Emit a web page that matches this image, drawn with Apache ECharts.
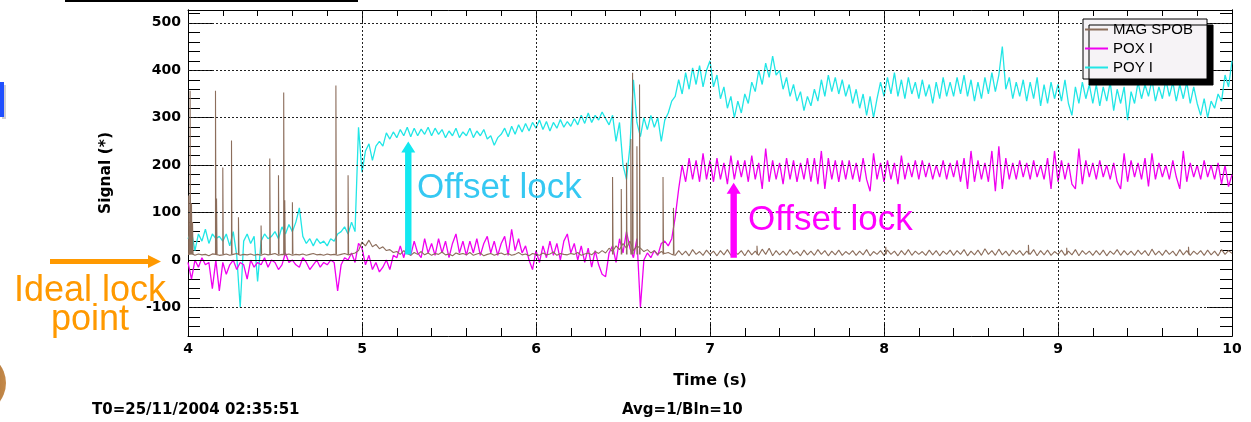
<!DOCTYPE html>
<html><head><meta charset="utf-8">
<script src="https://cdn.jsdelivr.net/npm/echarts@6/dist/echarts.min.js"></script>
<style>html,body{margin:0;padding:0;background:#fff}#c{width:1251px;height:422px}</style>
</head><body><div id="c"></div>
<script>
// ---- data ----
const seriesNames = ['MAG SPOB', 'POX I', 'POY I'];
const tStart = 4, tStep = 0.02;   // sampling grid of the uniform series (s)

const poyValues = [
  45, 60, 20, 55, 40, 65, 35, 55, 45, 50,
  40, 55, 30, 60, 10, -100, 40, 55, 35, 50,
  -45, 40, 55, 45, 50, 60, 45, 70, 55, 75,
  60, 80, 110, 50, 35, 45, 30, 45, 35, 40,
  30, 45, 40, 55, 60, 70, 55, 80, 60, 280,
  185, 230, 245, 210, 240, 250, 240, 268, 255, 270,
  258, 275, 262, 280, 260, 278, 262, 276, 265, 280,
  262, 278, 265, 275, 258, 272, 262, 278, 258, 270,
  262, 278, 258, 272, 262, 275, 255, 262, 242, 258,
  265, 278, 260, 282, 265, 285, 270, 288, 272, 290,
  278, 295, 275, 292, 272, 290, 278, 296, 280, 292,
  282, 298, 285, 305, 288, 310, 290, 305, 295, 312,
  298, 285, 305, 250, 290, 200, 170, 240, 380, 290,
  260, 300, 275, 305, 280, 300, 250, 295, 310, 335,
  345, 380, 350, 395, 360, 405, 370, 410, 365, 400,
  420, 365, 390, 340, 365, 320, 345, 300, 335, 310,
  350, 330, 375, 355, 400, 370, 415, 385, 430, 390,
  400, 360, 385, 345, 370, 335, 355, 315, 345, 325,
  360, 335, 380, 345, 390, 355, 385, 350, 380, 345,
  370, 330, 360, 320, 350, 305, 345, 300, 340, 375,
  345, 385, 350, 395, 345, 380, 340, 385, 350, 375,
  340, 380, 345, 370, 330, 375, 340, 385, 345, 375,
  345, 385, 350, 390, 345, 380, 335, 375, 340, 385,
  350, 395, 355, 390, 450, 360, 385, 340, 375, 345,
  380, 335, 375, 340, 385, 325, 370, 330, 375, 340,
  370, 335, 380, 330, 305, 365, 330, 375, 340, 370,
  330, 370, 325, 365, 335, 375, 315, 360, 330, 365,
  295, 355, 330, 375, 340, 370, 345, 380, 335, 365,
  340, 380, 345, 375, 335, 370, 340, 375, 330, 365,
  330, 305, 340, 300, 335, 320, 350, 335, 390, 365,
  420
];

const poxValues = [
  -5, -40, 0, -15, 5, -10, -5, -60, 0, -65,
  -5, -30, -10, 0, -20, -5, -10, -40, 0, -15,
  -5, -10, 5, -15, 0, -5, -20, -10, 15, -5,
  0, -10, -15, 5, -5, -20, -10, 0, -15, -5,
  -10, 0, -5, -65, -10, 5, 0, 15, -5, 35,
  25, -10, 10, -20, -5, -25, -15, 0, -20, 10,
  5, 30, 5, 35, 10, 40, 15, 5, 45, 15,
  35, 10, 45, 15, 40, 5, 35, 55, 15, 40,
  10, 40, 15, 45, 10, 35, 50, 15, 40, 10,
  35, 50, 10, 65, 20, 45, 15, 30, 0, -20,
  20, -5, 30, 5, 40, 10, 35, 0, 40, 55,
  15, 35, 0, 30, -5, 25, -15, 20, -10, -30,
  -35, 15, 30, -5, 45, 15, 60, 25, 5, 45,
  -100, 0, 15, 5, 20, 10, 35, 40, 30, 45,
  90, 150, 200, 165, 215, 170, 210, 165, 225, 170,
  210, 165, 215, 170, 205, 160, 220, 170, 210, 175,
  210, 165, 220, 170, 205, 150, 235, 165, 210, 170,
  205, 160, 215, 170, 210, 165, 205, 170, 215, 165,
  215, 160, 230, 150, 215, 170, 210, 165, 210, 170,
  210, 170, 205, 165, 215, 170, 145, 225, 170, 205,
  165, 210, 170, 205, 160, 220, 170, 205, 175, 210,
  170, 210, 175, 205, 170, 200, 175, 210, 170, 205,
  175, 210, 165, 215, 150, 230, 165, 210, 170, 205,
  165, 230, 145, 240, 150, 215, 170, 205, 170, 210,
  175, 205, 170, 210, 175, 200, 170, 215, 150, 230,
  165, 210, 170, 205, 160, 150, 235, 160, 210, 175,
  205, 170, 210, 175, 200, 170, 205, 165, 150, 225,
  165, 210, 175, 205, 170, 215, 155, 225, 170, 205,
  175, 200, 170, 210, 175, 150, 230, 165, 205, 175,
  200, 170, 210, 175, 200, 170, 205, 160, 200, 155,
  180
];

const magValues = [
  12, 14, 10, 13, 11, 12, 9, 13, 12, 10,
  11, 13, 10, 12, 14, 10, 12, 11, 13, 10,
  12, 10, 13, 11, 12, 14, 10, 12, 11, 13,
  10, 12, 11, 13, 10, 12, 14, 11, 12, 10,
  13, 11, 12, 10, 12, 14, 11, 13, 15, 20,
  38, 30, 42, 28, 33, 24, 28, 20, 22, 16,
  18, 12, 20, 14, 10, 16, 12, 18, 11, 15,
  10, 14, 12, 17, 11, 13, 9, 15, 12, 14,
  11, 16, 10, 13, 15, 9, 12, 14, 10, 13,
  15, 11, 14, 10, 12, 16, 11, 13, 9, 14,
  12, 10, 15, 11, 13, 17, 10, 14, 12, 11,
  14, 12, 16, 10, 13, 15, 11, 18, 14, 20,
  15, 25, 18, 30, 22, 35, 25, 40, 20, 30,
  25, 18, 22, 15, 20, 12, 18, 14, 16, 12,
  10, 20, 11, 19, 9, 22, 12, 18, 10, 21,
  12, 19, 9, 20, 11, 22, 10, 18, 12, 20,
  9, 21, 11, 19, 10, 23, 12, 25, 9, 20,
  11, 19, 10, 22, 12, 18, 9, 21, 11, 19,
  10, 22, 12, 20, 9, 19, 11, 21, 10, 18,
  12, 20, 10, 19, 11, 22, 9, 18, 12, 20,
  10, 21, 12, 19, 9, 20, 11, 22, 10, 19,
  12, 18, 10, 21, 11, 20, 9, 19, 12, 21,
  10, 20, 12, 22, 9, 19, 11, 21, 10, 24,
  12, 20, 10, 23, 11, 19, 9, 21, 12, 20,
  10, 19, 12, 22, 9, 20, 11, 21, 10, 18,
  12, 21, 10, 19, 11, 22, 9, 20, 12, 19,
  10, 20, 11, 21, 9, 19, 12, 22, 10, 20,
  11, 19, 10, 21, 12, 20, 9, 23, 11, 19,
  10, 21, 12, 19, 9, 22, 11, 20, 10, 19,
  12, 20, 10, 21, 11, 19, 9, 22, 12, 20,
  14
];

// narrow MAG SPOB spikes: time (s) and peak value
const magSpikeTimes  = [4.004, 4.012, 4.02, 4.026, 4.158, 4.164, 4.20, 4.25, 4.29, 4.42, 4.47, 4.52, 4.55, 4.556, 4.60, 4.85, 4.92,
                        6.44, 6.49, 6.52, 6.545, 6.555, 6.58, 6.595, 6.73, 6.79, 7.27, 8.01, 8.83, 9.05, 9.75];
const magSpikeValues = [136, 357, 120, 80, 357, 130, 195, 252, 90, 73, 214, 179, 353, 126, 122, 368, 179,
                        175, 150, 205, 255, 395, 240, 370, 175, 110, 30, 28, 32, 26, 28];
const magSpikeBase = 12;

const xMin = 4, xMax = 10;
const yMin = -160, yMax = 527;
const yMajorTicks = [-100, 0, 100, 200, 300, 400, 500];
const yMinorStep = 20;
const xGridTicks = [5, 6, 7, 8, 9];

// ---- build ----
const grid = (vals) => vals.map((v, i) => [+(tStart + i * tStep).toFixed(3), v]);
const spikeData = [];
magSpikeTimes.forEach((t, i) => {
  spikeData.push([t, magSpikeBase], [t, magSpikeValues[i]], [t + 0.003, magSpikeBase], [t + 0.004, null]);
});

const C_MAG = '#8c6e5c', C_POX = '#f000f0', C_POY = '#22e6e6';
const BOLD = {fontFamily: 'DejaVu Sans', fontWeight: 'bold', color: '#000'};

const lineSeries = (name, data, color, z, width) => ({
  type: 'line', name, data, symbol: 'none', showSymbol: false, z,
  connectNulls: false, animation: false,
  lineStyle: {color, width}, itemStyle: {color}, emphasis: {disabled: true}
});

// minor-tick axis (interval from min, min is a multiple of the step)
const yMinorAxis = (position) => ({
  type: 'value', position, min: yMin, max: yMax, interval: yMinorStep, offset: 0,
  axisLine: {show: true, onZero: false, lineStyle: {color: '#000', width: 1}},
  axisTick: {show: true, inside: true, length: 12, lineStyle: {color: '#000', width: 1}},
  axisLabel: {show: false},
  splitLine: {show: false}
});
// major-tick axis (custom tick values)
const yMajorAxis = (position, labels) => ({
  type: 'value', position, min: yMin, max: yMax, offset: 0,
  axisLine: {show: true, onZero: false, lineStyle: {color: '#000', width: 1}},
  axisTick: {show: true, inside: true, length: 25, customValues: yMajorTicks, lineStyle: {color: '#000', width: 1}},
  axisLabel: labels ? {show: true, customValues: yMajorTicks, margin: 7, fontSize: 14, ...BOLD} : {show: false},
  splitLine: {show: false}
});

const xAxisBase = (position, major, minor, labels) => ({
  type: 'value', position, min: xMin, max: xMax, interval: 1,
  axisLine: {show: true, onZero: false, lineStyle: {color: '#000', width: 1}},
  axisTick: {show: true, inside: true, length: major, lineStyle: {color: '#000', width: 1}},
  minorTick: {show: true, splitNumber: 5, length: minor, lineStyle: {color: '#000', width: 1}},
  axisLabel: labels ? {show: true, margin: 6, fontSize: 14, showMinLabel: true, showMaxLabel: true, ...BOLD} : {show: false},
  splitLine: {show: false}, minorSplitLine: {show: false}
});

const gridLines = [
  ...yMajorTicks.filter(v => v !== 0).map(v => ({yAxis: v})),
  ...xGridTicks.map(v => ({xAxis: v})),
  {yAxis: 0, lineStyle: {type: 'solid', color: '#000', width: 1}}
];

const chart = echarts.init(document.getElementById('c'), null, {renderer: 'canvas'});
const option = {
  animation: false,
  backgroundColor: '#fff',
  grid: {left: 188, right: 19, top: 10, bottom: 86, containLabel: false},
  xAxis: [
    Object.assign(xAxisBase('bottom', 14, 8, true), {
      name: 'Time (s)', nameLocation: 'middle', nameGap: 37,
      nameTextStyle: {fontSize: 16, ...BOLD}
    }),
    xAxisBase('top', 12, 6, false)
  ],
  yAxis: [
    Object.assign(yMajorAxis('left', true), {
      name: 'Signal (*)', nameLocation: 'middle', nameGap: 74, nameRotate: 90,
      nameTextStyle: {fontSize: 15.5, ...BOLD}
    }),
    yMinorAxis('left'),
    yMajorAxis('right', false),
    yMinorAxis('right')
  ],
  legend: {
    data: seriesNames, orient: 'vertical', left: 1083, top: 19, z: 20,
    padding: [3, 14, 4, 2], itemGap: 4, itemWidth: 23, itemHeight: 2, icon: 'rect',
    selectedMode: false,
    textStyle: {fontFamily: 'Liberation Sans', fontSize: 15, color: '#000'},
    backgroundColor: '#f6f3f6', borderColor: '#000', borderWidth: 1, borderRadius: 0,
    shadowColor: '#000', shadowBlur: 0, shadowOffsetX: 6, shadowOffsetY: 6
  },
  series: [
    {
      type: 'line', name: 'grid', data: [], z: 1, silent: true,
      markLine: {
        silent: true, symbol: 'none', animation: false, label: {show: false},
        lineStyle: {color: '#222', type: [2, 2], width: 1},
        emphasis: {disabled: true},
        data: gridLines
      }
    },
    lineSeries('POY I', grid(poyValues), C_POY, 2, 1.3),
    lineSeries('POX I', grid(poxValues), C_POX, 3, 1.3),
    lineSeries('MAG SPOB', grid(magValues), C_MAG, 4, 1.1),
    lineSeries('MAG SPOB', spikeData, C_MAG, 4, 1.1)
  ]
};
chart.setOption(option);

// ---- annotations (positioned through the chart's own scales) ----
const px = (t, v) => chart.convertToPixel({seriesIndex: 1}, [t, v]);
function vArrow(t, v0, v1, color) {
  const [x, yb] = px(t, v0);
  const yt = px(t, v1)[1];
  const hw = 3.2, hh = 7, hl = 11;
  return {
    type: 'polygon', silent: true, z: 100,
    shape: {points: [[x - hw, yb], [x + hw, yb], [x + hw, yt + hl], [x + hh, yt + hl], [x, yt], [x - hh, yt + hl], [x - hw, yt + hl]]},
    style: {fill: color}
  };
}
const y0 = px(4, 0)[1] + 1.5;
const ORANGE = '#ff9900';
chart.setOption({
  graphic: {elements: [
    vArrow(5.266, 12, 250, '#12e8f0'),
    vArrow(7.136, 5, 163, '#ff00ff'),
    {type: 'text', silent: true, z: 100, x: 417, y: 188,
     style: {text: 'Offset lock', fill: '#35c8f2', font: '35px "Liberation Sans"', verticalAlign: 'middle', align: 'left'}},
    {type: 'text', silent: true, z: 100, x: 748, y: 220,
     style: {text: 'Offset lock', fill: '#ff00ff', font: '35px "Liberation Sans"', verticalAlign: 'middle', align: 'left'}},
    {type: 'polygon', silent: true, z: 100,
     shape: {points: [[50, y0 - 2.5], [148, y0 - 2.5], [148, y0 - 6.5], [161, y0], [148, y0 + 6.5], [148, y0 + 2.5], [50, y0 + 2.5]]},
     style: {fill: ORANGE}},
    {type: 'text', silent: true, z: 100, x: 90, y: 291,
     style: {text: 'Ideal lock', fill: ORANGE, font: '36px "Liberation Sans"', verticalAlign: 'middle', align: 'center'}},
    {type: 'text', silent: true, z: 100, x: 90, y: 320,
     style: {text: 'point', fill: ORANGE, font: '36px "Liberation Sans"', verticalAlign: 'middle', align: 'center'}},
    {type: 'text', silent: true, x: 92, y: 410,
     style: {text: 'T0=25/11/2004 02:35:51', fill: '#000', font: 'bold 15px "DejaVu Sans"', verticalAlign: 'middle'}},
    {type: 'text', silent: true, x: 622, y: 410,
     style: {text: 'Avg=1/Bln=10', fill: '#000', font: 'bold 15px "DejaVu Sans"', verticalAlign: 'middle'}},
    // slide remnants around the plot
    {type: 'rect', silent: true, shape: {x: 65, y: 0, width: 293, height: 2}, style: {fill: '#000'}},
    {type: 'rect', silent: true, shape: {x: 2, y: 85, width: 4, height: 34}, style: {fill: '#cfcfd6'}},
    {type: 'rect', silent: true, shape: {x: 0, y: 82, width: 4, height: 35}, style: {fill: '#1f4fff'}},
    {type: 'circle', silent: true, shape: {cx: -25, cy: 383, r: 31},
     style: {fill: new echarts.graphic.LinearGradient(0, 0, 1, 0, [{offset: 0, color: '#6a3a10'}, {offset: 1, color: '#c58a4a'}])}}
  ]}
});
</script>
</body></html>
